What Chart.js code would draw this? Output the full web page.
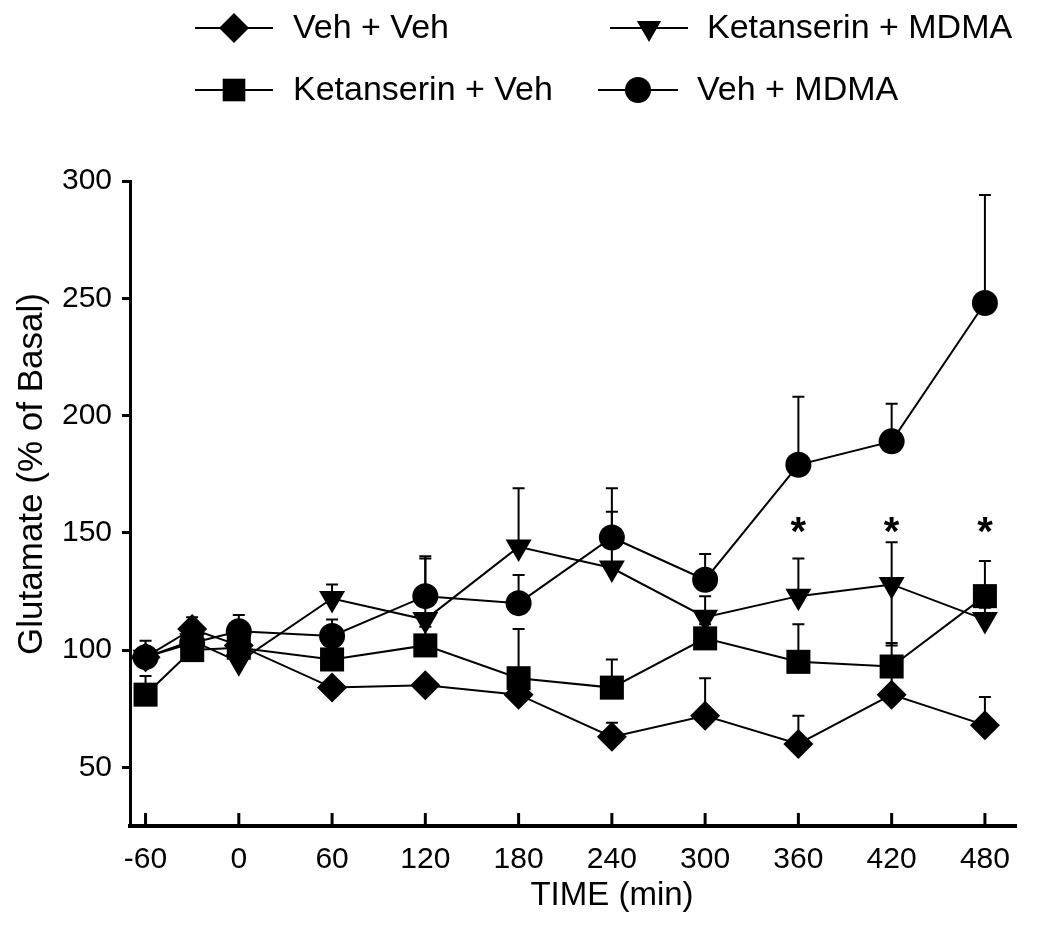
<!DOCTYPE html>
<html>
<head>
<meta charset="utf-8">
<script src="https://cdn.jsdelivr.net/npm/chart.js@4.4.1/dist/chart.umd.min.js"></script>
<style>
  html, body { margin: 0; padding: 0; background: #fff; }
  #wrap { width: 1050px; height: 932px; position: relative; }
</style>
</head>
<body>
<div id="wrap"><canvas id="glutChart"></canvas></div>
<script>
// time points (min) and tick values
const timePoints = [-60, -30, 0, 60, 120, 180, 240, 300, 360, 420, 480];
const xTickValues = [-60, 0, 60, 120, 180, 240, 300, 360, 420, 480];
const yTickValues = [50, 100, 150, 200, 250, 300];

// glutamate, % of basal
const vehVeh   = [97, 109, 102, 84, 85, 81, 63, 72, 60, 81, 68];
const ketVeh   = [81, 100, 101, 96, 102, 88, 84, 105, 95, 93, 123];
const ketMdma  = [97, 104, 95, 122, 113, 144, 135, 114, 123, 128, 113];
const vehMdma  = [97, 103, 108, 106, 123, 120, 148, 130, 179, 189, 248];

// SEM (drawn upward), plus a few downward ones
const vehVehErr  = [0, 5, 4, 3, 3, 4, 6, 16, 12, 8, 12];
const ketVehErr  = [8, 4, 4, 4, 8, 21, 12, 6, 16, 10, 15];
const ketMdmaErr = [4, 4, 4, 6, 27, 25, 24, 9, 16, 18, 5];
const vehMdmaErr = [7, 4, 7, 7, 16, 12, 21, 11, 29, 16, 46];
const ketMdmaErrDown = [0, 0, 0, 0, 0, 0, 0, 0, 0, 26, 0];

// significance markers
const sigTimes = [360, 420, 480];
const sigLevel = 152;

const FONT = '"Liberation Sans", Arial, Helvetica, sans-serif';

const toPoints = arr => arr.map((v, i) => ({ x: timePoints[i], y: v }));

const errorBars = {
  id: 'errorBars',
  beforeDatasetsDraw(chart) {
    const { ctx, scales: { x, y } } = chart;
    ctx.save();
    ctx.strokeStyle = '#000';
    ctx.lineWidth = 2;
    chart.data.datasets.forEach(ds => {
      if (!ds.errUp) return;
      ds.data.forEach((p, i) => {
        const px = x.getPixelForValue(p.x);
        const py = y.getPixelForValue(p.y);
        const up = ds.errUp[i] || 0;
        const down = ds.errDown ? ds.errDown[i] || 0 : 0;
        [[up, 1], [down, -1]].forEach(([e, dir]) => {
          if (!e) return;
          const ey = y.getPixelForValue(p.y + dir * e);
          ctx.beginPath();
          ctx.moveTo(px, py);
          ctx.lineTo(px, ey);
          ctx.moveTo(px - 6, ey);
          ctx.lineTo(px + 6, ey);
          ctx.stroke();
        });
      });
    });
    ctx.restore();
  }
};

const decorations = {
  id: 'decorations',
  afterDraw(chart) {
    const { ctx, chartArea, scales: { x, y } } = chart;
    ctx.save();
    // inward x ticks
    ctx.strokeStyle = '#000';
    ctx.lineWidth = 3;
    xTickValues.forEach(v => {
      const px = x.getPixelForValue(v);
      ctx.beginPath();
      ctx.moveTo(px, chartArea.bottom);
      ctx.lineTo(px, chartArea.bottom - 13);
      ctx.stroke();
    });

    // asterisks
    ctx.fillStyle = '#000';
    ctx.font = 'bold 40px ' + FONT;
    ctx.textAlign = 'center';
    ctx.textBaseline = 'middle';
    sigTimes.forEach(t => {
      ctx.fillText('*', x.getPixelForValue(t), y.getPixelForValue(sigLevel) + 6);
    });

    // axis titles
    ctx.font = '33px ' + FONT;
    ctx.fillText('TIME (min)', 612, 896);
    ctx.save();
    ctx.font = '35px ' + FONT;
    ctx.translate(32, 474);
    ctx.rotate(-Math.PI / 2);
    ctx.fillText('Glutamate (% of Basal)', 0, 0);
    ctx.restore();

    // legend
    const slots = [
      { x0: 195, x1: 273, y: 28, tx: 293 },
      { x0: 610, x1: 688, y: 28, tx: 707 },
      { x0: 195, x1: 273, y: 90, tx: 293 },
      { x0: 598, x1: 678, y: 90, tx: 697 }
    ];
    ctx.font = '34px ' + FONT;
    ctx.textAlign = 'left';
    chart.data.datasets.forEach((ds, i) => {
      const s = slots[i];
      ctx.strokeStyle = '#000';
      ctx.lineWidth = 2;
      ctx.beginPath();
      ctx.moveTo(s.x0, s.y);
      ctx.lineTo(s.x1, s.y);
      ctx.stroke();
      ctx.fillStyle = '#000';
      Chart.helpers.drawPoint(ctx, {
        pointStyle: ds.pointStyle,
        rotation: ds.pointRotation || 0,
        radius: ds.legendRadius,
        borderWidth: 0
      }, (s.x0 + s.x1) / 2, s.y);
      ctx.fillText(ds.label, s.tx, s.y + 1);
    });
    ctx.restore();
  }
};

const makeSet = (label, values, errUp, style, radius, rotation, legendRadius, errDown) => ({
  label,
  data: toPoints(values),
  errUp,
  errDown,
  borderColor: '#000',
  backgroundColor: '#000',
  borderWidth: 2,
  pointStyle: style,
  pointRadius: radius,
  pointRotation: rotation,
  pointBorderWidth: 0,
  pointBackgroundColor: '#000',
  legendRadius,
  tension: 0
});

new Chart(document.getElementById('glutChart'), {
  type: 'line',
  data: {
    datasets: [
      makeSet('Veh + Veh', vehVeh, vehVehErr, 'rectRot', 15, 0, 15),
      makeSet('Ketanserin + MDMA', ketMdma, ketMdmaErr, 'triangle', 15, 180, 14, ketMdmaErrDown),
      makeSet('Ketanserin + Veh', ketVeh, ketVehErr, 'rect', 17, 0, 16),
      makeSet('Veh + MDMA', vehMdma, vehMdmaErr, 'circle', 13, 0, 13)
    ]
  },
  options: {
    responsive: true,
    maintainAspectRatio: false,
    animation: false,
    layout: { padding: { top: 181, right: 34, left: 0, bottom: 0 } },
    plugins: {
      legend: { display: false },
      tooltip: { enabled: false }
    },
    scales: {
      x: {
        type: 'linear',
        min: -70,
        max: 500,
        afterBuildTicks: s => { s.ticks = xTickValues.map(v => ({ value: v })); },
        afterFit: s => { s.height = 106; },
        grid: { display: true, drawOnChartArea: false, drawTicks: false },
        border: { display: true, color: '#000', width: 4 },
        ticks: {
          color: '#000',
          padding: 16,
          maxRotation: 0,
          font: { family: FONT, size: 30 }
        }
      },
      y: {
        type: 'linear',
        min: 25,
        max: 300,
        afterBuildTicks: s => { s.ticks = yTickValues.map(v => ({ value: v })); },
        afterFit: s => { s.width = 130; },
        grid: { display: true, drawOnChartArea: false, drawTicks: true, tickLength: 8, color: '#000', lineWidth: 3 },
        border: { display: true, color: '#000', width: 3 },
        ticks: {
          color: '#000',
          padding: 10,
          font: { family: FONT, size: 30 }
        }
      }
    }
  },
  plugins: [errorBars, decorations]
});
</script>
</body>
</html>
